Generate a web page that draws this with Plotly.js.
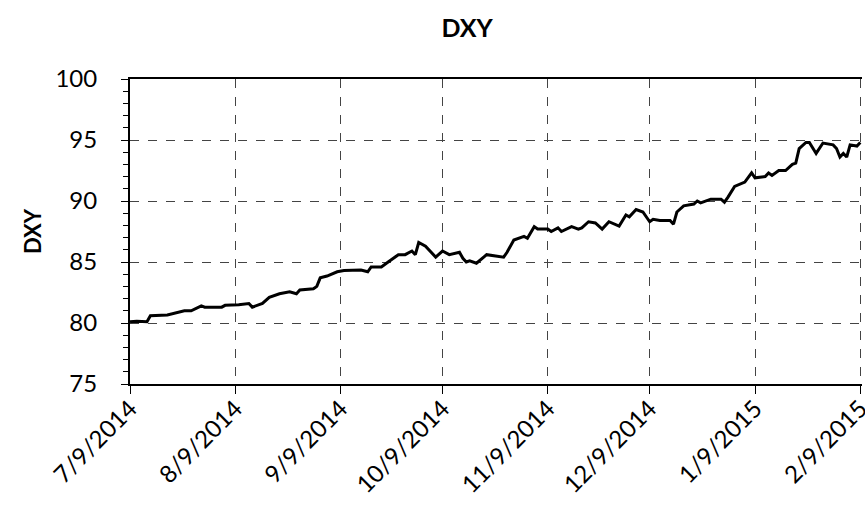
<!DOCTYPE html>
<html>
<head>
<meta charset="utf-8">
<script src="https://cdn.plot.ly/plotly-3.0.1.min.js"></script>
<style>html,body{margin:0;padding:0;background:#fff}#chart{width:865px;height:520px}</style>
</head>
<body>
<div id="chart"></div>
<script>
const dates = [
 "2014-07-09","2014-07-11","2014-07-14","2014-07-15","2014-07-20","2014-07-22","2014-07-25","2014-07-27",
 "2014-07-30","2014-07-31","2014-08-05","2014-08-06","2014-08-10","2014-08-13","2014-08-14","2014-08-17",
 "2014-08-19","2014-08-22","2014-08-25","2014-08-27","2014-08-28","2014-09-01","2014-09-02","2014-09-03",
 "2014-09-05","2014-09-08","2014-09-10","2014-09-15","2014-09-17","2014-09-18","2014-09-21","2014-09-23",
 "2014-09-26","2014-09-28","2014-09-30","2014-10-01","2014-10-02","2014-10-04","2014-10-07","2014-10-09",
 "2014-10-11","2014-10-14","2014-10-15","2014-10-16","2014-10-17","2014-10-19","2014-10-22","2014-10-27",
 "2014-10-28","2014-10-30","2014-11-02","2014-11-03","2014-11-05","2014-11-06","2014-11-09","2014-11-10",
 "2014-11-12","2014-11-13","2014-11-16","2014-11-18","2014-11-19","2014-11-21","2014-11-23","2014-11-25",
 "2014-11-27","2014-11-30","2014-12-02","2014-12-03","2014-12-05","2014-12-07","2014-12-09","2014-12-10",
 "2014-12-12","2014-12-15","2014-12-16","2014-12-17","2014-12-19","2014-12-22","2014-12-23","2014-12-24",
 "2014-12-27","2014-12-30","2014-12-31","2015-01-01","2015-01-03","2015-01-06","2015-01-08","2015-01-09",
 "2015-01-12","2015-01-13","2015-01-14","2015-01-16","2015-01-18","2015-01-20","2015-01-21","2015-01-22",
 "2015-01-24","2015-01-25","2015-01-27","2015-01-29","2015-02-01","2015-02-02","2015-02-03","2015-02-04",
 "2015-02-05","2015-02-06","2015-02-08","2015-02-09"
];
const dxy = [
 80.1,80.15,80.1,80.6,80.65,80.8,81.0,81.0,
 81.4,81.3,81.3,81.45,81.5,81.6,81.3,81.6,
 82.1,82.4,82.55,82.4,82.7,82.8,83.0,83.7,
 83.85,84.2,84.3,84.35,84.2,84.6,84.6,85.0,
 85.6,85.6,85.9,85.6,86.6,86.3,85.4,85.9,
 85.6,85.8,85.3,85.0,85.1,84.9,85.6,85.4,
 85.8,86.8,87.1,86.95,87.9,87.7,87.7,87.5,
 87.8,87.5,87.9,87.7,87.8,88.3,88.2,87.7,
 88.3,87.95,88.85,88.7,89.3,89.1,88.3,88.5,
 88.4,88.4,88.1,89.1,89.6,89.75,90.0,89.85,
 90.15,90.15,89.9,90.3,91.2,91.55,92.3,91.9,
 92.0,92.3,92.1,92.5,92.5,93.0,93.1,94.3,
 94.8,94.8,93.9,94.75,94.6,94.3,93.6,93.9,
 93.6,94.6,94.5,94.8
];
const tickDates = ["2014-07-09","2014-08-09","2014-09-09","2014-10-09","2014-11-09","2014-12-09","2015-01-09","2015-02-09"];
const tickLabels = ["7/9/2014","8/9/2014","9/9/2014","10/9/2014","11/9/2014","12/9/2014","1/9/2015","2/9/2015"];

const FONT = "Lato, 'Open Sans', sans-serif";
Plotly.newPlot("chart", [{
  x: dates, y: dxy, type: "scatter", mode: "lines",
  line: {color: "#000", width: 3}, hoverinfo: "x+y"
}], {
  width: 865, height: 520,
  margin: {l: 130, r: 3, t: 79, b: 136},
  paper_bgcolor: "#fff", plot_bgcolor: "#fff",
  showlegend: false,
  font: {family: FONT, color: "#000"},
  title: {text: "<b>DXY</b>", font: {size: 25, family: FONT, color: "#000"}, x: 0.54, xanchor: "center", y: 0.945, yanchor: "middle"},
  xaxis: {
    type: "date", range: ["2014-07-09", "2015-02-09 12:00"],
    tickvals: tickDates, ticktext: tickLabels, tickangle: -45,
    tickfont: {size: 24, family: FONT},
    ticks: "outside", ticklen: 8, tickwidth: 1, tickcolor: "#000",
    ticklabelstandoff: -9, ticklabeloverflow: "allow",
    showline: true, linecolor: "#000", linewidth: 2, mirror: true,
    showgrid: true, gridcolor: "#444", griddash: "dash", gridwidth: 1,
    zeroline: false
  },
  yaxis: {
    range: [75, 100], dtick: 5, tick0: 75,
    tickfont: {size: 24, family: FONT},
    ticks: "outside", ticklen: 7, tickwidth: 1, tickcolor: "#000",
    ticklabelstandoff: 19,
    minor: {dtick: 1, ticks: "outside", ticklen: 5, tickwidth: 1, tickcolor: "#000", showgrid: false},
    showline: true, linecolor: "#000", linewidth: 2,
    showgrid: true, gridcolor: "#444", griddash: "dash", gridwidth: 1,
    zeroline: false,
    title: {text: "<b>DXY</b>", font: {size: 22, family: FONT, color: "#000"}, standoff: 8}
  }
}, {displayModeBar: false, staticPlot: true});
</script>
</body>
</html>
